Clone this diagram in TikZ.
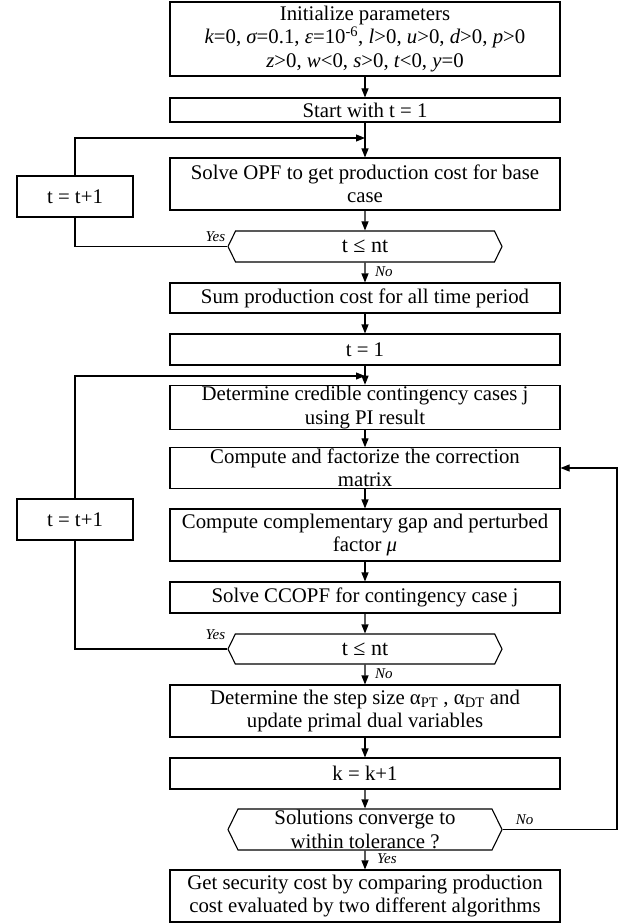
\documentclass[tikz,border=0pt]{standalone}
\usepackage{fontspec}
\setmainfont{Liberation Serif}
\usetikzlibrary{positioning,shapes.symbols,arrows.meta}

\begin{document}
\begin{tikzpicture}
[x=1pt,y=-1pt,
  lineDecorate/.style={-,line width=1.1pt},%
  arrowDecorate/.style={-{Triangle[length=9pt,width=7pt]},line width=1.1pt},%
  boxDecorate/.style={shape=rectangle,draw,line width=1.1pt,minimum width=390pt,inner sep=1pt,align=center,font=\fontsize{20.8}{23.5}\selectfont},%
  loopDecorate/.style={boxDecorate,minimum width=116pt,minimum height=41pt},%
  testDecorate/.style={shape=signal,signal to=west and east,signal pointer angle=128,draw,line width=1.1pt,minimum width=274pt,inner sep=1pt,align=center,font=\fontsize{20.8}{23.5}\selectfont},%
  answerDecorate/.style={inner sep=1pt,font=\fontsize{15}{17}\selectfont\itshape}]
\useasboundingbox (0,0) rectangle (624,923);
%% boxes of the main column
\foreach \nodename/\y/\h/\txt in {
  init/39/74/{Initialize parameters\\{\itshape k}=0, {\itshape σ}=0.1, {\itshape ε}=10\textsuperscript{-6}, {\itshape l}>0, {\itshape u}>0, {\itshape d}>0, {\itshape p}>0\\{\itshape z}>0, {\itshape w}<0, {\itshape s}>0, {\itshape t}<0, {\itshape y}=0},
  start/110/24/{Start with t = 1},
  opf/184/52/{Solve OPF to get production cost for base\\case},
  sum/298/30/{Sum production cost for all time period},
  tfirst/349.5/31/{t = 1},
  det/407.5/41/{Determine credible contingency cases j\\using PI result},
  fact/468/40/{Compute and factorize the correction\\matrix},
  comp/535/52/{Compute complementary gap and perturbed\\factor {\itshape μ}},
  ccopf/597.5/31/{Solve CCOPF for contingency case j},
  step/711/52/{Determine the step size α\textsubscript{PT} , α\textsubscript{DT} and\\update primal dual variables},
  kinc/773.5/31/{k = k+1},
  sec/896/52/{Get security cost by comparing production\\cost evaluated by two different algorithms}}
{
  \node (\nodename) at (365,\y) [boxDecorate,minimum height=\h] {\txt};
}
%% decisions
\node (dec1) at (365,246.5) [testDecorate,minimum height=31] {\fontsize{22}{24}\selectfont t ≤ nt};
\node (dec2) at (365,649) [testDecorate,minimum height=30] {\fontsize{22}{24}\selectfont t ≤ nt};
\node (dec3) at (365,829.5) [testDecorate,minimum height=41] {Solutions converge to\\within tolerance ?};
%% counters on the left
\node (tnext1) at (75,196.5) [loopDecorate] {t = t+1};
\node (tnext2) at (75,519.5) [loopDecorate] {t = t+1};
\coordinate (join1) at (365,138);
\coordinate (join2) at (365,376);
\coordinate (backturn) at (617,468);
%% answers
\node (yes1) [answerDecorate,above left=4pt and 1pt of dec1.west] {Yes};
\node (no1) [answerDecorate,below right=3pt and 9pt of dec1.south] {No};
\node (yes2) [answerDecorate,above left=8pt and 1pt of dec2.west] {Yes};
\node (no2) [answerDecorate,below right=3pt and 9pt of dec2.south] {No};
\node (no3) [answerDecorate,above right=4pt and 12pt of dec3.east] {No};
\node (yes3) [answerDecorate,below right=2pt and 11pt of dec3.south] {Yes};
%% main flow
\path
\foreach \startnode/\endnode in {init/start, start/opf, opf/dec1, dec1/sum,
  sum/tfirst, tfirst/det, det/fact, fact/comp, comp/ccopf, ccopf/dec2,
  dec2/step, step/kinc, kinc/dec3, dec3/sec}
{
  (\startnode) edge[arrowDecorate] (\endnode)
};
%% loops
\draw[lineDecorate] (dec1.west) -| (tnext1.south);
\draw[arrowDecorate] (tnext1.north) |- (join1);
\draw[lineDecorate] (dec2.west) -| (tnext2.south);
\draw[arrowDecorate] (tnext2.north) |- (join2);
\draw[arrowDecorate] (dec3.east) -| (backturn) -- (fact.east);
\end{tikzpicture}
\end{document}
